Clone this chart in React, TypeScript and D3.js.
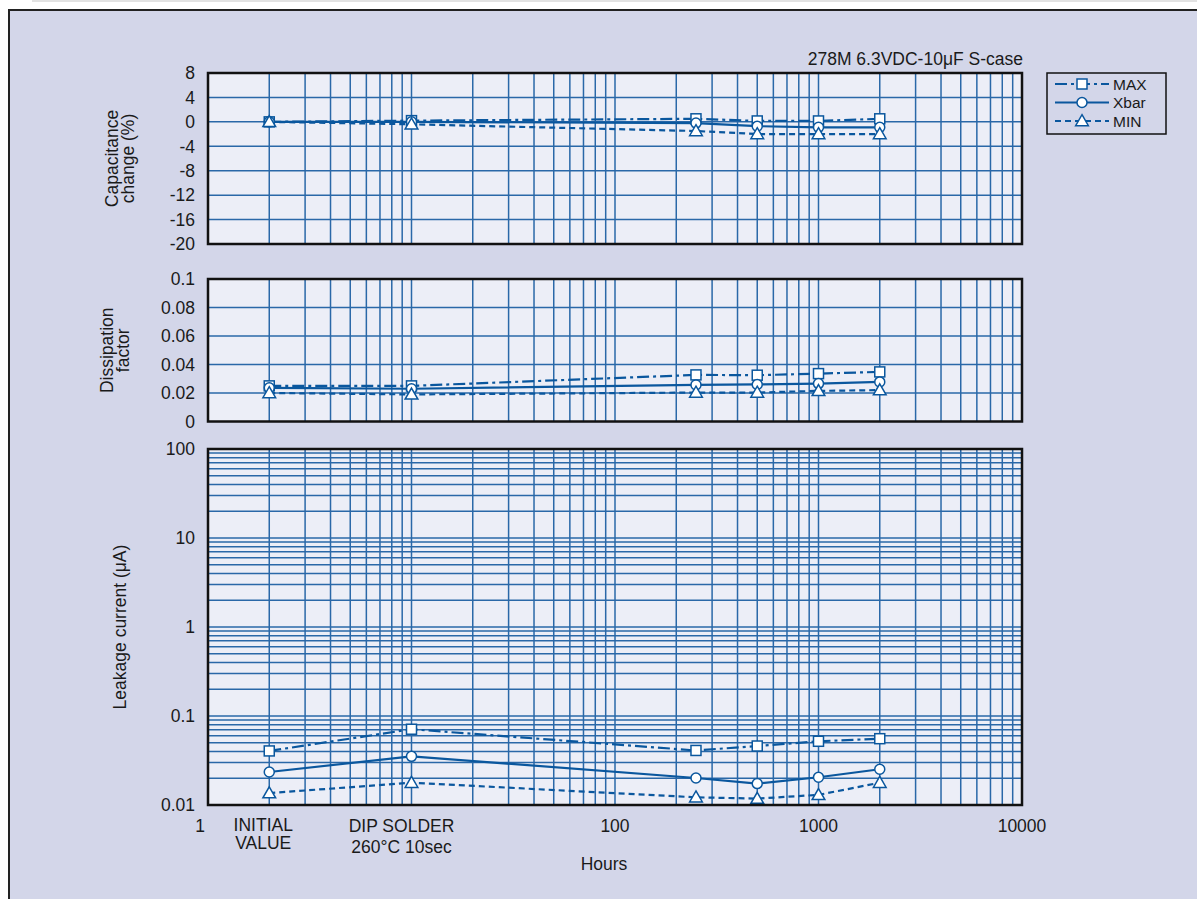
import * as d3 from 'd3';

const hours = [2, 10, 250, 500, 1000, 2000];
const seriesNames = ['MAX', 'Xbar', 'MIN'];

const capMax = [0, 0.2, 0.5, 0.15, 0.15, 0.5];
const capXbar = [0, 0, -0.2, -0.7, -0.9, -0.9];
const capMin = [0, -0.4, -1.5, -2.0, -2.0, -2.0];

const dfMax = [0.025, 0.025, 0.0327, 0.0325, 0.0336, 0.0348];
const dfXbar = [0.0236, 0.023, 0.0257, 0.026, 0.0266, 0.0278];
const dfMin = [0.02, 0.019, 0.0203, 0.0203, 0.0215, 0.022];

const lcMax = [0.0405, 0.071, 0.041, 0.046, 0.052, 0.0556];
const lcXbar = [0.0235, 0.0352, 0.0201, 0.0174, 0.0205, 0.0252];
const lcMin = [0.0136, 0.0178, 0.0122, 0.0118, 0.013, 0.0178];

const capTicks = [8, 4, 0, -4, -8, -12, -16, -20];
const dfTicks = [0.1, 0.08, 0.06, 0.04, 0.02, 0];
const lcTicks = [100, 10, 1, 0.1, 0.01];
const xTicks = [1, 100, 1000, 10000];

const BG = '#d3d6e9';
const PLOT_BG = '#eceef7';
const GRID = '#2a68a8';
const LINE = '#0a579e';
const TXT = '#1a1a1a';
const FONT = 'Liberation Sans, Arial, sans-serif';
const FS = 17.5;

const x = d3.scaleLog().domain([1, 10000]).range([208, 1022]);
const xGrid = x.ticks().filter(v => v > 1 && v < 10000);

const dashes = ['12,4,3,4', null, '6,4'];

function Marker({ kind, cx, cy }: { kind: number; cx: number; cy: number }) {
  if (kind === 0)
    return <rect x={cx - 5} y={cy - 5} width={10} height={10} fill="white" stroke={LINE} strokeWidth={1.5} />;
  if (kind === 1) return <circle cx={cx} cy={cy} r={5} fill="white" stroke={LINE} strokeWidth={1.5} />;
  const t = d3.symbol(d3.symbolTriangle, 70)();
  return <path d={t || ''} transform={`translate(${cx},${cy + 1})`} fill="white" stroke={LINE} strokeWidth={1.5} />;
}

function Panel({ y, series, ticks, title, titleX, hGrid }: any) {
  const [y0, y1] = y.range();
  const line = d3.line<number>().x((_, i) => x(hours[i])).y(v => y(v));
  return (
    <g>
      <rect x={208} y={y1} width={814} height={y0 - y1} fill={PLOT_BG} />
      {hGrid.map((v: number, i: number) => (
        <line key={'h' + i} x1={208} x2={1022} y1={y(v)} y2={y(v)} stroke={GRID} strokeWidth={1.5} />
      ))}
      {xGrid.map((v, i) => (
        <line key={'v' + i} x1={x(v)} x2={x(v)} y1={y1} y2={y0} stroke={GRID} strokeWidth={1.5} />
      ))}
      {series.map((s: number[], k: number) => (
        <path key={'s' + k} d={line(s) || ''} fill="none" stroke={LINE} strokeWidth={2.2}
          strokeDasharray={dashes[k] || undefined} />
      ))}
      {series.map((s: number[], k: number) =>
        s.map((v, i) => <Marker key={k + '-' + i} kind={k} cx={x(hours[i])} cy={y(v)} />)
      )}
      <rect x={208} y={y1} width={814} height={y0 - y1} fill="none" stroke="#111" strokeWidth={2.5} />
      {ticks.map((v: number, i: number) => (
        <text key={'t' + i} x={195} y={y(v)} dy="0.36em" textAnchor="end" fontSize={FS} fill={TXT}>
          {String(v)}
        </text>
      ))}
      <text transform={`translate(${titleX},${(y0 + y1) / 2}) rotate(-90)`}
        textAnchor="middle" fontSize={FS} fill={TXT}>
        {title.map((t: string, i: number) => (
          <tspan key={i} x={0} dy={i === 0 ? 0 : 16}>{t}</tspan>
        ))}
      </text>
    </g>
  );
}

export default function App() {
  const yCap = d3.scaleLinear().domain([-20, 8]).range([244, 73]);
  const yDf = d3.scaleLinear().domain([0, 0.1]).range([421.5, 279]);
  const yLc = d3.scaleLog().domain([0.01, 100]).range([805, 449]);
  const lcGrid = yLc.ticks().filter(v => v > 0.01 && v < 100);

  return (
    <svg width={1197} height={899} style={{ position: 'absolute', left: 0, top: 0 }} fontFamily={FONT}>
      <rect x={0} y={0} width={1197} height={899} fill="white" />
      <rect x={32} y={0} width={1165} height={2} fill="#e2e2e2" />
      <rect x={9} y={10} width={1200} height={900} fill={BG} stroke="#222" strokeWidth={2} />

      <Panel y={yCap} series={[capMax, capXbar, capMin]} ticks={capTicks}
        title={['Capacitance', 'change (%)']} titleX={118} hGrid={capTicks.slice(1, -1)} />
      <Panel y={yDf} series={[dfMax, dfXbar, dfMin]} ticks={dfTicks}
        title={['Dissipation', 'factor']} titleX={113} hGrid={dfTicks.slice(1, -1)} />
      <Panel y={yLc} series={[lcMax, lcXbar, lcMin]} ticks={lcTicks}
        title={['Leakage current (μA)']} titleX={126} hGrid={lcGrid} />

      <text x={1023} y={65} textAnchor="end" fontSize={FS} fill={TXT}>278M 6.3VDC-10μF S-case</text>

      {xTicks.map((v, i) => (
        <text key={i} x={x(v) - (i === 0 ? 8 : 0)} y={832} textAnchor="middle" fontSize={FS} fill={TXT}>
          {v}
        </text>
      ))}
      <text x={x(hours[0]) - 6} y={831} textAnchor="middle" fontSize={FS} fill={TXT}>
        <tspan x={x(hours[0]) - 6}>INITIAL</tspan>
        <tspan x={x(hours[0]) - 6} dy={18}>VALUE</tspan>
      </text>
      <text x={x(hours[1]) - 10} y={832} textAnchor="middle" fontSize={FS} fill={TXT}>
        <tspan x={x(hours[1]) - 10}>DIP SOLDER</tspan>
        <tspan x={x(hours[1]) - 10} dy={21}>260°C 10sec</tspan>
      </text>
      <text x={604} y={870} textAnchor="middle" fontSize={FS} fill={TXT}>Hours</text>

      <g>
        <rect x={1047} y={73} width={119} height={61} fill={BG} stroke="#111" strokeWidth={1.5} />
        {seriesNames.map((n, k) => {
          const ly = 84 + k * 18.5;
          return (
            <g key={n}>
              <line x1={1055} x2={1109} y1={ly} y2={ly} stroke={LINE} strokeWidth={2}
                strokeDasharray={dashes[k] || undefined} />
              <Marker kind={k} cx={1082} cy={ly} />
              <text x={1113} y={ly} dy="0.36em" fontSize={15.5} fill={TXT}>{n}</text>
            </g>
          );
        })}
      </g>
    </svg>
  );
}
